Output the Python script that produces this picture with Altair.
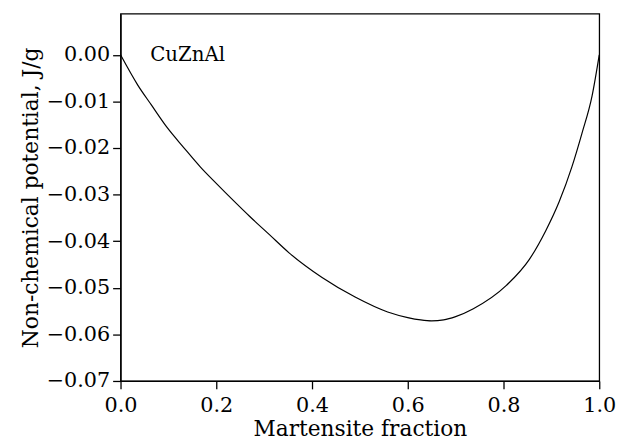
import altair as alt
import pandas as pd

fraction = [0.0, 0.036, 0.064, 0.098, 0.132, 0.167, 0.201, 0.236, 0.270, 0.311,
            0.352, 0.421, 0.490, 0.558, 0.600, 0.627, 0.650, 0.675, 0.700, 0.737,
            0.806, 0.854, 0.888, 0.916, 0.943, 0.964, 0.985, 1.0]
potential = [0.0, -0.0065, -0.0107, -0.0157, -0.0199, -0.0241, -0.0277, -0.0313, -0.0347, -0.0386,
             -0.0425, -0.0478, -0.0520, -0.0552, -0.0564, -0.0569, -0.0571, -0.0569, -0.0562, -0.0545,
             -0.0495, -0.0439, -0.0378, -0.0316, -0.0240, -0.0168, -0.0088, 0.0]

label_text = ["CuZnAl"]
label_x = [0.062]
label_y = [0.0]

df = pd.DataFrame({"x": fraction, "y": potential})
lab = pd.DataFrame({"x": label_x, "y": label_y, "t": label_text})

FONT = "DejaVu Serif"

xs = alt.Scale(domain=[0, 1], nice=False, zero=False)
ys = alt.Scale(domain=[-0.07, 0.0088], nice=False, zero=False)

line = alt.Chart(df).mark_line(color="black", strokeWidth=1.2, interpolate="monotone").encode(
    x=alt.X("x:Q", scale=xs, title="Martensite fraction",
            axis=alt.Axis(values=[0, 0.2, 0.4, 0.6, 0.8, 1.0], format=".1f", grid=False)),
    y=alt.Y("y:Q", scale=ys, title="Non-chemical potential, J/g",
            axis=alt.Axis(values=[0, -0.01, -0.02, -0.03, -0.04, -0.05, -0.06, -0.07], format=".2f", grid=False)),
)

text = alt.Chart(lab).mark_text(align="left", baseline="middle", font=FONT, fontSize=20, color="black").encode(
    x=alt.X("x:Q", scale=xs), y=alt.Y("y:Q", scale=ys), text="t:N"
)

chart = (line + text).properties(
    width=485, height=372,
    autosize="none",
    padding={"left": 114, "top": 3, "right": 20, "bottom": 61},
).configure_view(
    stroke="black", strokeWidth=1.3
).configure_axis(
    domainColor="black", domainWidth=1.3, tickColor="black", tickWidth=1.3, tickSize=8,
    labelFont=FONT, labelFontSize=21, labelColor="black",
    titleFont=FONT, titleFontSize=22, titleFontWeight="normal", titleColor="black",
).configure_axisX(titlePadding=3, labelPadding=6, labelFlush=False).configure_axisY(titlePadding=4, labelPadding=3)

chart.save("out.html", embed_options={"renderer": "svg", "actions": False})
